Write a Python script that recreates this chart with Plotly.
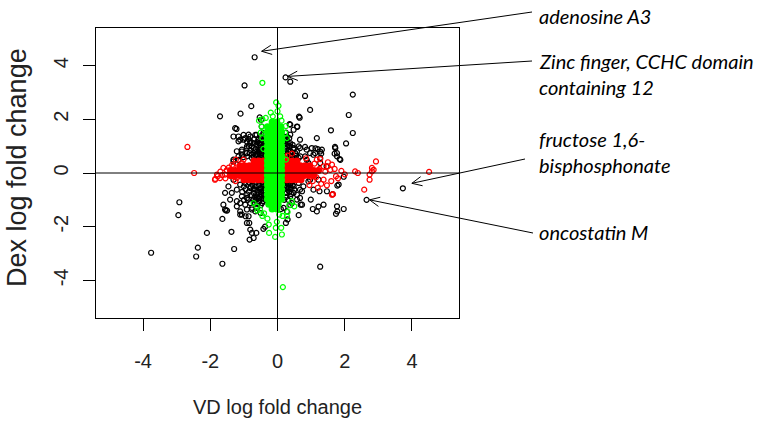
import math
import plotly.graph_objects as go

# ---------------- data (VD log fold change, Dex log fold change) ----------------
black_points = [
    (-0.68, 4.31), (0.24, 3.56), (0.38, 3.40), (-0.98, 3.26), (0.82, 2.87), (2.24, 2.92), (-0.78, 2.49), (0.97, 2.35),
    (-1.71, 2.11), (-1.10, 2.21), (2.12, 2.16), (-0.53, 2.07), (-0.49, 1.98), (0.64, 2.10), (0.66, 2.06), (0.36, 1.82),
    (0.59, 1.72), (-1.22, 1.64), (1.59, 1.59), (2.24, 1.49), (1.17, 1.30), (2.04, 1.10), (1.71, 0.97), (1.70, 0.72),
    (1.77, 0.62), (1.85, 0.52), (0.82, 0.97), (1.13, 0.92), (1.20, 0.89), (1.30, 0.72), (1.46, 0.25), (1.97, -0.14),
    (3.73, -0.57), (1.78, -0.47), (2.65, -1.00), (1.64, -0.79), (1.25, -0.68), (0.69, -1.18), (1.22, -1.25), (1.05, -1.34),
    (1.97, -1.34), (1.78, -1.43), (1.74, -1.52), (0.63, -1.57), (0.38, -1.19), (0.10, -1.34), (0.30, -1.73), (0.25, -1.86),
    (1.27, -3.49), (-2.92, -1.09), (-2.95, -1.57), (-3.76, -2.97), (-2.10, -2.23), (-2.37, -2.78), (-2.42, -3.11), (-1.64, -3.38),
    (-1.29, -2.83), (-1.37, -2.19), (-1.64, -1.71), (-1.54, -1.39), (-1.50, -1.40), (-0.84, -1.86), (-0.81, -2.11), (-0.76, -2.23),
    (-0.83, -2.48), (-0.71, -2.42), (-0.63, -2.23), (-0.42, -2.08), (-0.37, -2.00), (-0.95, -1.61), (-0.50, -1.49),
    (-1.31, 1.36), (-1.16, 1.18), (-1.01, 1.24), (-0.86, 1.26), (-0.81, 1.12), (-0.62, 1.42), (-0.47, 1.73), (-0.42, 1.49),
    (-0.37, 1.30), (-1.21, 0.81), (-1.06, 0.87), (-0.91, 0.93), (-0.76, 0.99), (-0.66, 0.81), (-0.52, 1.12), (-0.91, 0.62),
    (-0.76, 0.56), (-0.62, 0.62), (-0.52, 0.87), (-0.42, 0.99), (-1.31, 0.50), (-1.16, 0.62), (-0.47, 0.56), (-1.26, 1.67),
    (-1.16, 1.36), (-1.01, 1.42), (-0.81, 1.36), (-0.66, 1.42), (-0.51, 1.36), (-0.36, 1.42), (-0.91, 1.17), (-0.71, 1.11),
    (-0.56, 1.11), (-1.06, 0.80), (-0.91, 0.74), (-0.76, 0.68), (-0.46, 0.80), (-1.31, 0.43), (-1.16, 0.49), (-1.01, 0.59),
    (-1.11, 1.24), (-0.96, 1.30), (-0.86, 1.43), (-0.81, 1.18), (-0.57, 1.24), (-0.42, 1.43), (-0.91, 0.99), (-0.71, 0.93),
    (-0.52, 0.81), (-0.62, 1.05), (-0.83, 0.74), (-0.66, 0.68), (-1.06, 0.68), (-0.45, 0.65), (-0.40, 0.75), (-0.50, 0.95),
    (-0.45, 1.20), (-0.55, 1.25), (-0.40, 1.10), (-0.55, 0.75),
    (-0.60, 0.50), (-0.50, 0.50), (-0.40, 0.55), (-0.35, 0.65), (-0.70, 0.60), (-0.60, 0.70), (-0.48, 0.72), (-0.38, 0.85),
    (-0.65, 0.90), (-0.55, 0.85), (-0.45, 0.90), (-0.38, 1.00), (-0.60, 1.15), (-0.50, 1.05), (-0.42, 1.30), (-0.35, 1.20),
    (-0.80, 0.85), (-0.72, 0.75), (-0.85, 1.00), (-0.70, 1.25),
    (0.38, 1.80), (0.58, 1.73), (0.28, 1.36), (0.38, 1.11), (0.48, 0.93), (0.63, 0.99), (1.02, 0.93), (1.27, 0.80),
    (1.12, 0.74), (1.72, 0.93), (1.77, 0.74), (1.87, 0.49), (0.53, 0.74), (0.68, 0.62), (0.87, 0.49), (1.07, 0.68),
    (1.27, 0.37), (0.23, 1.11), (0.33, 0.87), (0.38, 0.62), (0.38, 0.99), (0.48, 0.87), (0.58, 0.80), (0.43, 0.62),
    (0.63, 0.56), (0.67, 0.93), (0.87, 0.87), (0.97, 0.74), (0.82, 0.62), (0.92, 0.37), (0.28, 1.24), (0.38, 1.43),
    (0.18, 1.36), (0.22, 0.50), (0.30, 0.70), (0.25, 0.90), (0.35, 1.00), (0.40, 0.80), (0.45, 0.60), (1.32, 0.87),
    (1.27, 0.56), (0.67, 1.24), (0.48, 1.61),
    (0.22, 0.40), (0.30, 0.45), (0.35, 0.55), (0.25, 0.65), (0.32, 0.80), (0.22, 0.80), (0.28, 1.00), (0.22, 1.20),
    (0.30, 1.15), (0.42, 0.70), (0.50, 0.55), (0.55, 0.65), (0.45, 1.05), (0.35, 1.30), (0.25, 1.50),
    (0.28, -0.25), (0.38, -0.37), (0.33, -0.56), (0.48, -0.50), (0.63, -0.37), (0.77, -0.50), (0.92, -0.31), (1.07, -0.62),
    (1.22, -0.25), (0.73, -0.68), (0.58, -0.81), (0.43, -1.12), (0.73, -1.18), (0.18, -1.30), (1.17, -1.43), (1.37, -1.18),
    (1.77, -1.24), (1.82, -0.43), (1.47, -0.68), (0.67, -0.62), (0.48, -0.74), (0.97, -0.25), (0.38, -0.87), (0.28, -0.74),
    (0.58, -0.99), (0.22, -0.20), (0.30, -0.40), (0.25, -0.55), (0.40, -0.55), (0.35, -0.70), (0.22, -0.75), (0.45, -0.30),
    (0.99, -0.99), (0.67, -0.93), (0.28, -1.43),
    (0.20, -0.30), (0.30, -0.30), (0.38, -0.45), (0.28, -0.50), (0.20, -0.45), (0.45, -0.45), (0.50, -0.62), (0.30, -0.62),
    (0.25, -0.90), (0.40, -0.78), (0.20, -1.00), (0.32, -1.00),
    (-1.31, -0.25), (-1.46, -0.50), (-1.56, -0.74), (-1.36, -0.74), (-1.21, -0.62), (-1.11, -0.43), (-0.96, -0.37), (-0.81, -0.56),
    (-0.66, -0.62), (-0.51, -0.56), (-1.06, -0.87), (-0.91, -0.93), (-0.71, -0.99), (-0.56, -0.93), (-0.41, -0.81), (-1.11, -1.12),
    (-0.96, -1.18), (-0.81, -1.12), (-0.61, -1.30), (-1.56, -1.36), (-1.11, -1.55), (-0.86, -1.61), (-0.76, -1.36), (-0.46, -1.12),
    (-0.75, -0.45), (-0.65, -0.50), (-0.55, -0.45), (-0.45, -0.50), (-0.70, -0.75), (-0.60, -0.80), (-0.50, -0.70), (-0.40, -0.65),
    (-0.65, -1.00), (-0.55, -1.05), (-0.45, -0.95), (-0.38, -0.85), (-0.50, -1.20), (-0.42, -0.40), (-0.35, -0.55), (-0.85, -0.70),
    (-0.95, -0.60), (-1.00, -1.00), (-1.41, -0.99), (-1.61, -1.18), (-1.21, -1.05), (-0.91, -1.36), (-1.06, -1.55), (-1.21, -1.24),
    (-0.66, -1.43), (-0.76, -1.30), (-1.11, -1.43), (-0.91, -1.86),
    (-0.85, -0.35), (-0.75, -0.30), (-0.65, -0.35), (-0.55, -0.32), (-0.45, -0.35), (-0.38, -0.30), (-0.80, -0.50), (-0.70, -0.60),
    (-0.60, -0.65), (-0.50, -0.60), (-0.40, -0.50), (-0.33, -0.45), (-0.78, -0.82), (-0.68, -0.88), (-0.58, -0.70), (-0.48, -0.82),
    (-0.40, -0.95), (-0.35, -0.70), (-0.70, -1.10), (-0.60, -1.15), (-0.42, -1.05), (-0.90, -0.80), (-1.05, -0.70), (-1.00, -0.50),
    (-0.88, -1.00), (-0.35, -1.00), (-0.52, -0.88), (-0.62, -0.92),
]

red_points = [
    (-2.68, 0.97), (-2.48, 0.00), (-1.80, -0.06), (-1.85, -0.22), (-1.78, -0.12), (-1.61, 0.19), (-1.51, 0.10), (-1.24, 0.50),
    (-1.35, 0.30), (-1.70, 0.05), (-1.55, -0.20), (-1.65, -0.08), (-1.31, 0.25), (-1.36, -0.12), (-1.21, -0.19), (-1.06, 0.37),
    (-1.01, 0.50), (-1.45, 0.20), (-1.25, -0.30), (-1.86, -0.25), (-1.71, -0.19), (-1.56, -0.06),
    (2.93, 0.43), (2.86, 0.12), (2.81, 0.06), (2.74, -0.06), (2.74, -0.25), (2.31, 0.06), (2.39, 0.00), (2.58, -0.62),
    (4.51, 0.04), (1.65, -0.79), (1.74, -0.12), (1.47, -0.46), (1.37, -0.25), (1.17, 0.50), (1.27, 0.52), (1.37, 0.25),
    (1.49, 0.25), (1.57, 0.12), (0.43, 0.72), (1.90, 0.08), (2.00, -0.05), (1.60, -0.30), (1.30, -0.40), (1.10, 0.35),
    (1.50, 0.40), (1.20, -0.55), (0.95, -0.45), (0.85, 0.55), (1.05, -0.30), (1.80, -0.20), (1.70, 0.15), (1.42, 0.05),
    (1.25, 0.15), (1.15, -0.15), (0.30, 0.65), (0.22, 0.58), (1.62, 0.31), (1.62, -0.81), (2.81, 0.19),
]

red_core_points = [
    (-0.70, 0.45), (-0.56, 0.45), (-0.42, 0.45),
    (-1.12, 0.27), (-0.98, 0.27), (-0.84, 0.27), (-0.70, 0.27), (-0.56, 0.27), (-0.42, 0.27), (-0.30, 0.27),
    (-1.40, 0.09), (-1.26, 0.09), (-1.12, 0.09), (-0.98, 0.09), (-0.84, 0.09), (-0.70, 0.09), (-0.56, 0.09), (-0.42, 0.09), (-0.28, 0.09),
    (-1.40, -0.09), (-1.26, -0.09), (-1.12, -0.09), (-0.98, -0.09), (-0.84, -0.09), (-0.70, -0.09), (-0.56, -0.09), (-0.42, -0.09), (-0.28, -0.09),
    (-1.00, -0.25), (-0.86, -0.25), (-0.72, -0.25), (-0.58, -0.25), (-0.44, -0.25), (-0.32, -0.25),
    (0.30, 0.45), (0.44, 0.45), (0.58, 0.45),
    (0.26, 0.27), (0.40, 0.27), (0.54, 0.27), (0.68, 0.27), (0.82, 0.27), (0.96, 0.27),
    (0.24, 0.09), (0.38, 0.09), (0.52, 0.09), (0.66, 0.09), (0.80, 0.09), (0.94, 0.09), (1.08, 0.09), (1.22, 0.09),
    (0.24, -0.09), (0.38, -0.09), (0.52, -0.09), (0.66, -0.09), (0.80, -0.09), (0.94, -0.09), (1.08, -0.09),
    (0.28, -0.25), (0.42, -0.25), (0.56, -0.25), (0.70, -0.25),
]

green_points = [
    (-0.45, 3.36), (-0.04, 2.63), (0.03, 2.50), (-0.14, 2.11), (0.08, 2.11), (0.16, -4.25), (-0.26, -1.92), (-0.02, -1.82),
    (-0.05, -2.04), (0.11, -2.04), (-0.25, -2.23), (-0.07, -2.38), (0.13, -2.29), (0.28, -1.61), (0.50, -1.24), (0.43, -1.05),
    (-0.62, -1.24), (-0.52, -1.36), (-0.71, -1.12), (-0.47, 1.73), (-0.37, 1.61), (0.23, 1.49), (0.28, 1.30), (-0.55, 1.95),
    (-0.45, 2.00), (-0.35, 2.05), (-0.50, 1.50), (0.25, 1.75), (0.30, -1.45), (0.15, -1.60), (-0.40, -1.50), (-0.30, -1.70),
    (0.05, -1.55), (-0.60, -1.40), (0.35, -1.20), (-0.45, -1.60), (0.00, 2.30), (-0.20, 2.25), (0.12, 1.95), (-0.45, 1.30),
    (-0.42, 0.90), (0.25, 0.50),
]

green_core_points = [
    (-0.16, 1.90), (-0.02, 1.90),
    (-0.30, 1.72), (-0.16, 1.72), (-0.02, 1.72), (0.10, 1.72),
    (-0.30, 1.54), (-0.16, 1.54), (-0.02, 1.54), (0.12, 1.54),
    (-0.30, 1.36), (-0.16, 1.36), (-0.02, 1.36), (0.12, 1.36),
    (-0.30, 1.18), (-0.16, 1.18), (-0.02, 1.18), (0.12, 1.18),
    (-0.30, 1.00), (-0.16, 1.00), (-0.02, 1.00), (0.12, 1.00),
    (-0.30, 0.82), (-0.16, 0.82), (-0.02, 0.82), (0.12, 0.82),
    (-0.30, 0.64), (-0.16, 0.64), (-0.02, 0.64), (0.12, 0.64),
    (-0.30, 0.46), (-0.16, 0.46), (-0.02, 0.46), (0.12, 0.46),
    (-0.30, 0.28), (-0.16, 0.28), (-0.02, 0.28), (0.12, 0.28),
    (-0.30, 0.10), (-0.16, 0.10), (-0.02, 0.10), (0.12, 0.10),
    (-0.30, -0.08), (-0.16, -0.08), (-0.02, -0.08), (0.12, -0.08),
    (-0.30, -0.26), (-0.16, -0.26), (-0.02, -0.26), (0.12, -0.26),
    (-0.30, -0.44), (-0.16, -0.44), (-0.02, -0.44), (0.12, -0.44),
    (-0.30, -0.62), (-0.16, -0.62), (-0.02, -0.62), (0.12, -0.62),
    (-0.30, -0.80), (-0.16, -0.80), (-0.02, -0.80), (0.12, -0.80),
    (-0.30, -0.98), (-0.16, -0.98), (-0.02, -0.98), (0.12, -0.98),
    (-0.26, -1.16), (-0.12, -1.16), (0.02, -1.16),
    (-0.16, -1.34), (-0.02, -1.34),
]

# labelled genes: target point (data) and label lines
label_targets = [(-0.68, 4.31), (0.24, 3.56), (3.73, -0.57), (2.65, -1.00)]
label_lines = [["adenosine A3"],
               ["Zinc finger, CCHC domain", "containing 12"],
               ["fructose 1,6-", "bisphosphonate"],
               ["oncostatin M"]]

tick_values = [-4, -2, 0, 2, 4]
tick_labels = ["-4", "-2", "0", "2", "4"]
x_title = "VD log fold change"
y_title = "Dex log fold change"

# ---------------- layout geometry ----------------
W, H = 765, 421
L, T, PW, PH = 96, 28, 363, 290
XR = [-5.4, 5.4]
YR = [-5.4, 5.4]


def data_px(x, y):
    return (L + (x - XR[0]) / (XR[1] - XR[0]) * PW,
            T + (YR[1] - y) / (YR[1] - YR[0]) * PH)


def paper(px, py):
    return (px - L) / PW, (T + PH - py) / PH


AXFONT = "Liberation Sans, Arial, sans-serif"
LBLFONT = "Lato, Liberation Sans, Arial, sans-serif"

fig = go.Figure()


def add_pts(points, color, core=False):
    fig.add_trace(go.Scatter(
        x=[p[0] for p in points], y=[p[1] for p in points], mode="markers",
        marker=dict(symbol="circle" if core else "circle-open", size=7 if core else 5,
                    color=color, line=dict(width=0 if core else 1.2, color=color)),
        hoverinfo="skip", showlegend=False))


add_pts(black_points, "#000000")
add_pts(red_points, "#FF0000")
add_pts(red_core_points, "#FF0000", core=True)
add_pts(green_points, "#00FF00")
add_pts(green_core_points, "#00FF00", core=True)

shapes = [
    dict(type="line", xref="x", yref="paper", x0=0, x1=0, y0=0, y1=1, line=dict(color="black", width=1), layer="above"),
    dict(type="line", xref="paper", yref="y", x0=0, x1=1, y0=0, y1=0, line=dict(color="black", width=1), layer="above"),
]

# arrows (tail near the label, tip next to the labelled point)
tails_px = [(532, 12), (532, 61), (525, 159), (533, 233)]
tip_offsets_px = [(7, -6), (2, -1), (9, -5), (3, 0)]
for (tx, ty), (ox, oy), (gx, gy) in zip(tails_px, tip_offsets_px, label_targets):
    hx, hy = data_px(gx, gy)
    hx, hy = hx + ox, hy + oy
    p0 = paper(tx, ty)
    p1 = paper(hx, hy)
    shapes.append(dict(type="line", xref="paper", yref="paper", x0=p0[0], y0=p0[1], x1=p1[0], y1=p1[1],
                       line=dict(color="black", width=1)))
    dx, dy = tx - hx, ty - hy
    n = math.hypot(dx, dy)
    ux, uy = dx / n, dy / n
    for ang in (25, -25):
        a = math.radians(ang)
        rx = ux * math.cos(a) - uy * math.sin(a)
        ry = ux * math.sin(a) + uy * math.cos(a)
        e = paper(hx + 11 * rx, hy + 11 * ry)
        shapes.append(dict(type="line", xref="paper", yref="paper", x0=p1[0], y0=p1[1], x1=e[0], y1=e[1],
                           line=dict(color="black", width=1)))

annotations = []
text_rows_px = [[16], [61, 87], [139, 165], [232]]
for lines, rows in zip(label_lines, text_rows_px):
    for line, ry in zip(lines, rows):
        xp, yp = paper(537, ry)
        annotations.append(dict(text="<i>" + line + "</i>", xref="paper", yref="paper", x=xp, y=yp,
                                xanchor="left", yanchor="middle", showarrow=False,
                                font=dict(family=LBLFONT, size=20, color="black")))

xp, yp = paper(277, 407)
annotations.append(dict(text=x_title, xref="paper", yref="paper", x=xp, y=yp, xanchor="center", yanchor="middle",
                        showarrow=False, font=dict(family=AXFONT, size=20, color="#222222")))
xp, yp = paper(17, 168)
annotations.append(dict(text=y_title, xref="paper", yref="paper", x=xp, y=yp, xanchor="center", yanchor="middle",
                        textangle=-90, showarrow=False, font=dict(family=AXFONT, size=27, color="#222222")))

axis_common = dict(tickvals=tick_values, ticktext=tick_labels, ticks="outside", ticklen=12, tickcolor="black",
                   showline=True, mirror=True, linecolor="black", linewidth=1, showgrid=False, zeroline=False,
                   tickfont=dict(family=AXFONT, size=20, color="#222222"))

fig.update_layout(
    width=W, height=H, margin=dict(l=L, r=W - L - PW, t=T, b=H - T - PH, autoexpand=False),
    plot_bgcolor="white", paper_bgcolor="white", showlegend=False,
    xaxis=dict(range=XR, ticklabelstandoff=13, **axis_common),
    yaxis=dict(range=YR, tickangle=-90, ticklabelstandoff=7, **axis_common),
    shapes=shapes, annotations=annotations,
)

fig.write_html("out.html", config={"displayModeBar": False}, post_script="document.body.style.margin='0';")
